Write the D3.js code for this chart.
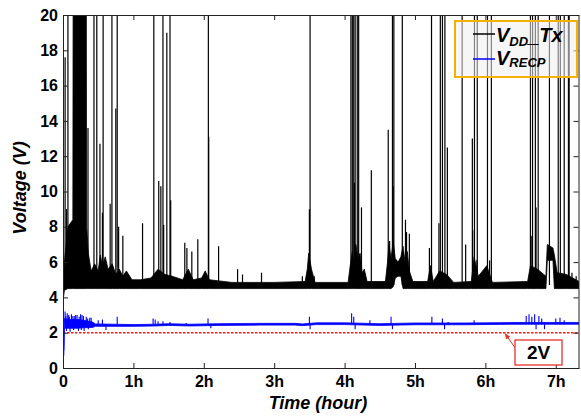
<!DOCTYPE html>
<html>
<head>
<meta charset="utf-8">
<script src="https://cdn.jsdelivr.net/npm/d3@7"></script>
<style>
	body { margin: 0; background: #fff; }
	svg { display: block; font-family: "Liberation Sans", Arial, sans-serif; }
</style>
</head>
<body>
<div id="vis"></div>
<script>

// ---- data (time in hours, voltage in V) ----

var xTicks = [0, 1, 2, 3, 4, 5, 6, 7];
var xTickLabels = ["0", "1h", "2h", "3h", "4h", "5h", "6h", "7h"];
var yTicks = [0, 2, 4, 6, 8, 10, 12, 14, 16, 18, 20];

var timeEnd = 7.33;
var thresholdVolt = 2;

// V_DD_Tx : envelope of the dense trace [hour, low, high]
var vddEnvelope = [
	[0.00, 3.8, 5.0], [0.02, 4.4, 6.0], [0.07, 4.5, 8.0], [0.14, 4.5, 8.4],
	[0.145, 4.5, 25], [0.33, 4.5, 25], [0.335, 4.5, 8.0], [0.36, 4.5, 6.5],
	[0.40, 4.5, 5.5], [0.45, 4.5, 5.9], [0.50, 4.5, 5.5], [0.53, 4.5, 6.4],
	[0.56, 4.5, 5.8], [0.60, 4.5, 6.3], [0.64, 4.5, 5.6], [0.70, 4.5, 5.9],
	[0.75, 4.5, 5.3], [0.80, 4.5, 5.6], [0.85, 4.5, 5.2], [0.90, 4.5, 5.5],
	[0.98, 4.5, 5.0], [1.10, 4.5, 5.0], [1.25, 4.5, 5.1], [1.35, 4.5, 5.6],
	[1.45, 4.5, 5.3], [1.55, 4.5, 5.2], [1.70, 4.5, 5.0], [1.78, 4.5, 5.6],
	[1.85, 4.5, 5.0], [1.97, 4.5, 5.1], [2.02, 4.5, 5.5], [2.08, 4.5, 5.0],
	[2.40, 4.5, 4.85], [3.00, 4.5, 4.85], [3.44, 4.5, 4.9], [3.47, 4.5, 5.6],
	[3.49, 4.5, 6.5], [3.53, 4.5, 5.6], [3.58, 4.5, 4.85], [4.05, 4.5, 4.85],
	[4.08, 4.5, 5.8], [4.11, 4.5, 6.6], [4.13, 4.5, 5.9], [4.16, 4.5, 7.0],
	[4.19, 4.5, 6.2], [4.22, 4.5, 6.5], [4.25, 4.5, 5.4], [4.28, 4.5, 5.6],
	[4.32, 4.5, 4.9], [4.58, 4.5, 4.9], [4.61, 4.5, 6.0], [4.63, 4.5, 7.0],
	[4.66, 4.5, 6.2], [4.69, 4.6, 7.2], [4.72, 5.1, 6.2], [4.76, 5.2, 6.0],
	[4.80, 5.2, 6.3], [4.83, 4.5, 6.9], [4.86, 4.5, 6.0], [4.89, 4.5, 6.6],
	[4.92, 4.5, 5.5], [4.97, 4.5, 4.9], [5.18, 4.5, 4.9], [5.22, 4.5, 5.8],
	[5.26, 4.5, 4.9], [5.35, 4.5, 5.5], [5.45, 4.5, 5.3], [5.55, 4.5, 4.85],
	[5.80, 4.5, 4.9], [5.84, 4.5, 6.3], [5.90, 4.5, 5.2], [6.02, 4.5, 5.8],
	[6.10, 4.5, 4.85], [6.60, 4.5, 4.9], [6.64, 4.5, 5.8], [6.74, 4.5, 5.6],
	[6.86, 4.5, 5.2], [6.88, 6.1, 7.0], [6.96, 6.1, 6.8], [6.98, 4.5, 6.4],
	[7.02, 4.5, 5.4], [7.15, 4.5, 5.3], [7.33, 4.5, 4.9]
];

// V_DD_Tx : spikes [hour, peak]
var vddSpikes = [
	[0.03, 17.6], [0.05, 9.0], [0.07, 25], [0.10, 6.4], [0.355, 13.6],
	[0.44, 25], [0.48, 25], [0.525, 12.7], [0.56, 8.8], [0.57, 25],
	[0.67, 9.3], [0.695, 25], [0.75, 14.7], [0.77, 25], [0.79, 8.0],
	[0.85, 7.5], [1.13, 8.2], [1.29, 25], [1.36, 10.6], [1.39, 10.3],
	[1.42, 25], [1.43, 8.1], [1.475, 19.0], [1.52, 25], [1.53, 9.5],
	[1.73, 7.1], [1.76, 6.8], [1.83, 6.6], [1.915, 7.3], [2.065, 25],
	[2.07, 13.1], [2.21, 6.9], [2.48, 5.6], [2.55, 5.3], [2.82, 5.4],
	[3.40, 5.2], [3.50, 9.0], [3.51, 25], [3.57, 5.2], [4.09, 25],
	[4.11, 25], [4.13, 25], [4.14, 10.5], [4.15, 25], [4.18, 25],
	[4.20, 25], [4.24, 9.1], [4.38, 11.2], [4.62, 13.5], [4.64, 7.2],
	[4.68, 25], [4.69, 10.3], [4.70, 25], [4.82, 25], [4.865, 8.4],
	[4.88, 7.7], [4.92, 7.6], [5.205, 6.8], [5.235, 25], [5.34, 8.2],
	[5.36, 25], [5.39, 25], [5.425, 25], [5.46, 12.5], [5.67, 25],
	[5.72, 7.0], [5.815, 13.0], [5.82, 7.8], [5.845, 25], [5.88, 6.1],
	[5.885, 25], [6.03, 25], [6.06, 6.1], [6.085, 25], [6.64, 25],
	[6.66, 7.5], [6.67, 25], [6.71, 25], [6.72, 9.1], [6.75, 25],
	[6.91, 25], [7.035, 25], [7.065, 25], [7.12, 25], [7.18, 25],
	[7.19, 25], [7.23, 5.4], [7.29, 5.2]
];
var vddBase = 4.7;

// V_RECP : envelope [hour, low, high]
var recpEnvelope = [
	[0.00, 0.7, 1.0], [0.012, 0.7, 1.0], [0.02, 2.25, 2.8], [0.10, 2.25, 2.75],
	[0.20, 2.25, 2.75], [0.30, 2.28, 2.7], [0.42, 2.3, 2.6], [0.46, 2.36, 2.5],
	[1.00, 2.36, 2.46], [1.30, 2.38, 2.48], [1.50, 2.41, 2.51], [1.80, 2.38, 2.48],
	[2.20, 2.41, 2.51], [2.80, 2.43, 2.53], [3.30, 2.43, 2.53], [3.40, 2.40, 2.50],
	[3.60, 2.46, 2.56], [4.00, 2.46, 2.56], [4.50, 2.41, 2.51], [5.00, 2.45, 2.55],
	[5.70, 2.45, 2.55], [6.20, 2.47, 2.57], [6.60, 2.48, 2.58], [7.33, 2.48, 2.58]
];

// V_RECP : spikes and dips [hour, value]
var recpSpikes = [
	[0.03, 3.2], [0.04, 2.95], [0.05, 2.1], [0.06, 3.1], [0.08, 3.0],
	[0.09, 2.9], [0.10, 2.05], [0.12, 3.05], [0.14, 2.95], [0.15, 2.15],
	[0.16, 2.95], [0.18, 3.0], [0.20, 3.0], [0.22, 2.1], [0.23, 2.9],
	[0.25, 3.05], [0.26, 2.15], [0.27, 3.0], [0.29, 2.95], [0.30, 2.1],
	[0.33, 2.9], [0.35, 2.8], [0.36, 2.2], [0.38, 2.85], [0.40, 2.85],
	[0.50, 2.7], [0.56, 2.75], [0.61, 2.15], [0.77, 2.9], [1.28, 2.8],
	[1.31, 2.75], [1.35, 2.65], [1.42, 2.65], [1.52, 2.6], [1.75, 2.55],
	[2.06, 2.8], [2.10, 2.25], [3.50, 2.9], [3.51, 2.2], [4.10, 3.1],
	[4.13, 2.9], [4.15, 2.2], [4.36, 2.7], [4.66, 2.9], [4.68, 2.2],
	[5.24, 2.9], [5.39, 2.8], [5.42, 2.2], [5.47, 2.6], [5.84, 2.7],
	[6.58, 2.95], [6.62, 3.05], [6.66, 2.9], [6.70, 3.05], [6.72, 2.2],
	[6.76, 2.95], [6.80, 2.8], [6.84, 2.2], [7.00, 2.8], [7.06, 2.85],
	[7.12, 2.7]
];
var recpBase = 2.48;

// ---- chart ----

var width = 581, height = 420;
var margin = {top: 15, right: 2, bottom: 52, left: 63};

var svg = d3.select("#vis").append("svg")
	.attr("width", width)
	.attr("height", height);

var xScale = d3.scaleLinear()
	.domain([0, timeEnd])
	.range([margin.left, width - margin.right]);

var yScale = d3.scaleLinear()
	.domain([0, 20])
	.range([height - margin.bottom, margin.top]);

var defs = svg.append("defs");

defs.append("clipPath")
	.attr("id", "plotClip")
	.append("rect")
	.attr("x", xScale(0))
	.attr("y", yScale(20))
	.attr("width", xScale(timeEnd) - xScale(0))
	.attr("height", yScale(0) - yScale(20));

defs.append("marker")
	.attr("id", "arrowHead")
	.attr("viewBox", "0 0 10 10")
	.attr("refX", 9)
	.attr("refY", 5)
	.attr("markerWidth", 6)
	.attr("markerHeight", 6)
	.attr("orient", "auto")
	.append("path")
	.attr("d", "M0,1 L10,5 L0,9 z")
	.attr("fill", "#e8302a");

var plot = svg.append("g").attr("clip-path", "url(#plotClip)");

var envArea = d3.area()
	.x(function (d) { return xScale(d[0]); })
	.y0(function (d) { return yScale(d[1]); })
	.y1(function (d) { return yScale(d[2]); });

// V_DD_Tx
plot.append("path")
	.datum(vddEnvelope)
	.attr("d", envArea)
	.attr("fill", "#000")
	.attr("stroke", "#000")
	.attr("stroke-width", 0.8);

plot.selectAll(".vddSpike")
	.data(vddSpikes)
	.enter()
	.append("line")
	.attr("class", "vddSpike")
	.attr("x1", function (d) { return xScale(d[0]); })
	.attr("x2", function (d) { return xScale(d[0]); })
	.attr("y1", yScale(vddBase))
	.attr("y2", function (d) { return yScale(d[1]); })
	.attr("stroke", "#000")
	.attr("stroke-width", 1.2);

// threshold
plot.append("line")
	.attr("x1", xScale(0))
	.attr("x2", xScale(timeEnd))
	.attr("y1", yScale(thresholdVolt))
	.attr("y2", yScale(thresholdVolt))
	.attr("stroke", "#ff1a1a")
	.attr("stroke-width", 1.5)
	.attr("stroke-dasharray", "2.5,1.5");

// V_RECP
plot.append("path")
	.datum(recpEnvelope)
	.attr("d", envArea)
	.attr("fill", "#0000ff")
	.attr("stroke", "#0000ff")
	.attr("stroke-width", 0.8);

plot.selectAll(".recpSpike")
	.data(recpSpikes)
	.enter()
	.append("line")
	.attr("class", "recpSpike")
	.attr("x1", function (d) { return xScale(d[0]); })
	.attr("x2", function (d) { return xScale(d[0]); })
	.attr("y1", yScale(recpBase))
	.attr("y2", function (d) { return yScale(d[1]); })
	.attr("stroke", "#0000ff")
	.attr("stroke-width", 1.1);

// axes, ticks inward on all four sides
var fontAxis = function (g) {
	g.attr("font-family", null).attr("font-size", null);
	g.selectAll("text")
		.attr("fill", "#000")
		.style("font-size", "16px")
		.style("font-weight", "bold");
	g.selectAll("path, line").attr("stroke", "#222");
};

svg.append("g")
	.attr("transform", "translate(0," + yScale(0) + ")")
	.call(d3.axisBottom(xScale)
		.tickValues(xTicks)
		.tickFormat(function (d, i) { return xTickLabels[i]; })
		.tickSizeInner(-5)
		.tickSizeOuter(0)
		.tickPadding(8))
	.call(fontAxis);

svg.append("g")
	.attr("transform", "translate(" + xScale(0) + ",0)")
	.call(d3.axisLeft(yScale)
		.tickValues(yTicks)
		.tickSizeInner(-5)
		.tickSizeOuter(0)
		.tickPadding(5))
	.call(fontAxis);

svg.append("g")
	.attr("transform", "translate(0," + yScale(20) + ")")
	.call(d3.axisTop(xScale)
		.tickValues(xTicks)
		.tickFormat("")
		.tickSizeInner(-5)
		.tickSizeOuter(0))
	.call(fontAxis);

svg.append("g")
	.attr("transform", "translate(" + (xScale(timeEnd) - 0.5) + ",0)")
	.call(d3.axisRight(yScale)
		.tickValues(yTicks)
		.tickFormat("")
		.tickSizeInner(-5)
		.tickSizeOuter(0))
	.call(fontAxis);

// axis titles
svg.append("text")
	.attr("x", 318)
	.attr("y", 409)
	.attr("text-anchor", "middle")
	.style("font-size", "18px")
	.style("font-weight", "bold")
	.style("font-style", "italic")
	.text("Time (hour)");

svg.append("text")
	.attr("transform", "translate(26,188) rotate(-90)")
	.attr("text-anchor", "middle")
	.style("font-size", "18px")
	.style("font-weight", "bold")
	.style("font-style", "italic")
	.text("Voltage (V)");

// legend
var legend = svg.append("g");

legend.append("rect")
	.attr("x", 455)
	.attr("y", 21)
	.attr("width", 122)
	.attr("height", 56)
	.attr("fill", "#eeeeee")
	.attr("fill-opacity", 0.55)
	.attr("stroke", "#f7b000")
	.attr("stroke-width", 2);

legend.append("line")
	.attr("x1", 473).attr("x2", 495)
	.attr("y1", 34).attr("y2", 34)
	.attr("stroke", "#000")
	.attr("stroke-width", 1.5);

legend.append("line")
	.attr("x1", 473).attr("x2", 495)
	.attr("y1", 59).attr("y2", 59)
	.attr("stroke", "#0000ff")
	.attr("stroke-width", 1.5);

var l1 = legend.append("text")
	.attr("x", 496)
	.attr("y", 42)
	.style("font-weight", "bold")
	.style("font-style", "italic")
	.style("font-size", "20px");
l1.append("tspan").text("V");
l1.append("tspan").attr("dy", 4).style("font-size", "13px").text("DD");
l1.append("tspan").attr("dy", -4).text("_Tx");

var l2 = legend.append("text")
	.attr("x", 496)
	.attr("y", 65)
	.style("font-weight", "bold")
	.style("font-style", "italic")
	.style("font-size", "20px");
l2.append("tspan").text("V");
l2.append("tspan").attr("dy", 2).style("font-size", "13px").text("RECP");

// 2V annotation
svg.append("line")
	.attr("x1", 516).attr("y1", 349)
	.attr("x2", xScale(6.28)).attr("y2", yScale(thresholdVolt) + 1)
	.attr("stroke", "#e8302a")
	.attr("stroke-width", 1)
	.attr("marker-end", "url(#arrowHead)");

svg.append("rect")
	.attr("x", 515)
	.attr("y", 340)
	.attr("width", 47)
	.attr("height", 25)
	.attr("fill", "#fff")
	.attr("stroke", "#e8302a")
	.attr("stroke-width", 1.3);

svg.append("text")
	.attr("x", 538.5)
	.attr("y", 359)
	.attr("text-anchor", "middle")
	.style("font-size", "19px")
	.style("font-weight", "bold")
	.text("2V");

</script>
</body>
</html>
